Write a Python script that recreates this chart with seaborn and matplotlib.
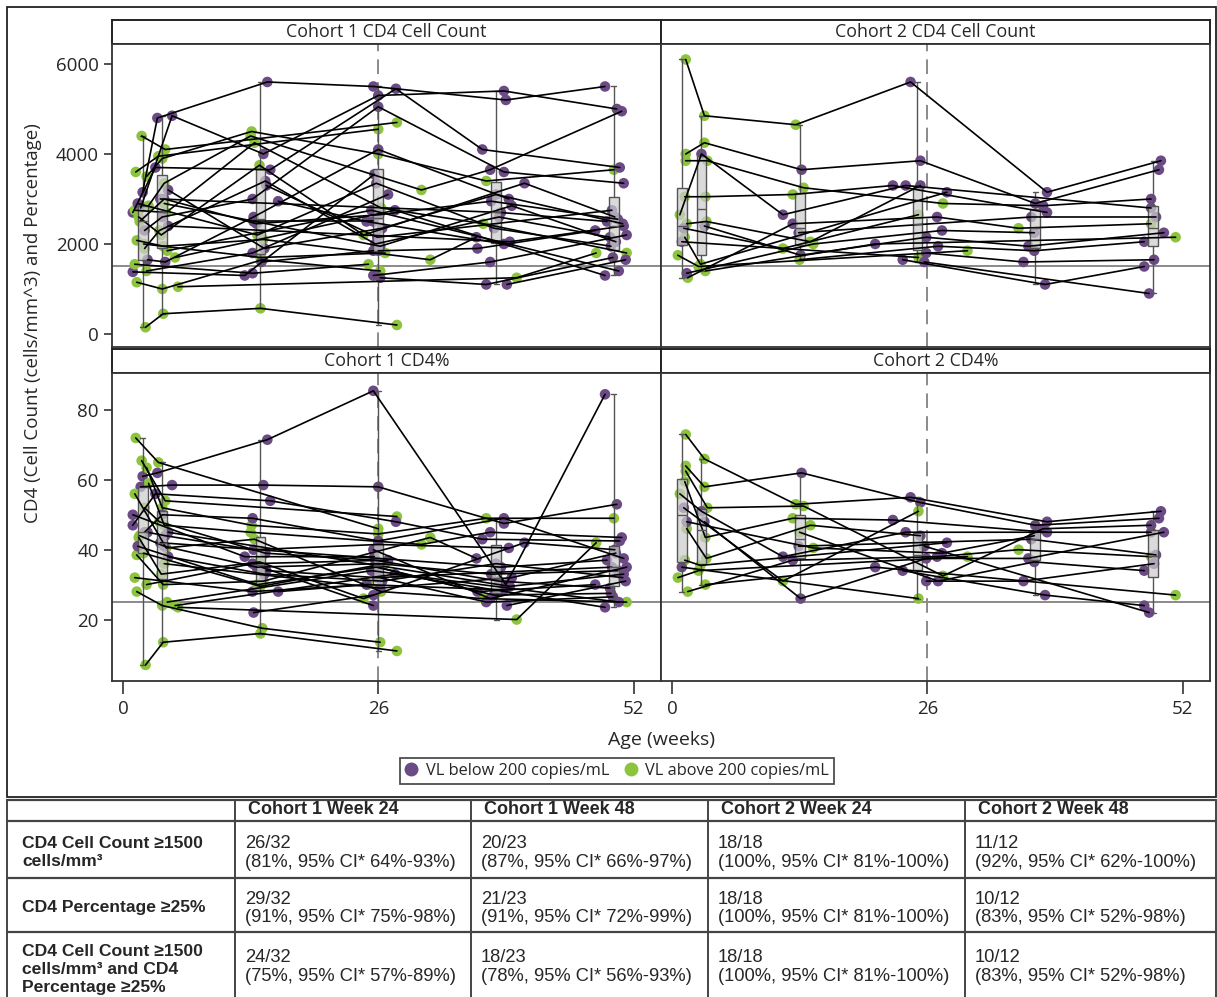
import numpy as np
import pandas as pd
import matplotlib
matplotlib.use("Agg")
import matplotlib.pyplot as plt
import seaborn as sns
from matplotlib.patches import Rectangle
from matplotlib.lines import Line2D

N = None

# nominal visit weeks (box positions)
c1_visits = [2, 4, 14, 26, 38, 50]
c2_visits = [1, 3, 13, 25, 37, 49]

# Cohort 1: one row per infant, one column per visit (age in weeks)
c1_age = [
    [2.3, 4.1, 14.0, 27.9, N, N],
    [1.4, 4.0, 14.2, 26.2, N, N],
    [1.9, 4.3, N, 27.9, N, N],
    [1.3, 3.6, N, 26.0, N, N],
    [2.0, 3.5, 14.7, 25.5, 39.0, 49.1],
    [2.4, 4.0, 13.1, 26.0, 37.0, 50.0],
    [1.8, 5.0, 14.3, 26.0, 38.8, 50.3],
    [2.6, 4.2, 13.0, 30.4, 37.4, 50.8],
    [1.0, 3.3, 15.0, 27.8, 36.6, 50.6],
    [1.2, 4.4, 13.4, 26.3, 36.7, 51.3],
    [2.2, 4.0, 13.2, 26.0, 38.8, 51.0],
    [1.6, 3.9, 13.9, 24.5, 40.9, 50.1],
    [2.5, 4.3, 13.3, 26.0, 39.3, N],
    [1.4, 4.1, 14.3, 31.3, 36.0, N],
    [1.0, N, 12.4, 25.6, N, N],
    [2.1, N, 14.0, 26.7, N, N],
    [1.2, N, 13.2, 25.0, N, N],
    [2.4, N, 13.2, 27.0, N, N],
    [N, 4.5, N, 25.3, N, 50.5],
    [N, 5.3, N, 27.7, N, 49.1],
    [N, 3.8, N, N, 38.5, 49.3],
    [N, 5.6, N, N, 40.1, 48.2],
    [N, 4.6, N, N, 39.4, 51.0],
    [N, N, 15.8, 24.8, 38.8, N],
    [N, N, 13.3, 25.5, N, N],
    [N, N, 14.1, 25.5, N, N],
    [N, N, N, 26.0, 36.1, 48.1],
    [N, N, N, 25.5, 37.4, 51.3],
    [N, N, N, 26.2, 37.0, 49.9],
    [N, N, N, N, 39.1, 51.2],
    [1.7, 4.2, 13.6, 26.1, 37.5, 50.4],
    [2.2, 3.7, 14.5, 25.7, 38.3, 49.6],
    [N, 4.6, 14.4, 26.4, 38.0, 50.9],
    [1.5, N, 13.7, 25.8, 37.8, 49.7],
    [N, 4.2, N, 26.2, 39.6, 50.2],
    [N, N, 14.6, 25.9, N, 49.8],
]
c1_count = [
    [150, 450, 570, 200, N, N],
    [1150, 1000, 1650, 1400, N, N],
    [4400, 4100, N, 4700, N, N],
    [3600, 3950, N, 4550, N, N],
    [3150, 4800, 5600, 5500, 5200, 5500],
    [3500, 3900, 4500, 4000, 3400, 3650],
    [2800, 4850, 4000, 5300, 5400, 5000],
    [2850, 3350, 4400, 3200, 3650, 4950],
    [2700, 3700, 3650, 5450, 4100, 3700],
    [2750, 2700, 4250, 2800, 2450, 1800],
    [2300, 2600, 3000, 5050, 3600, 3350],
    [2600, 2200, 3750, 2200, 3350, 2600],
    [1650, 1600, 2600, 4100, 3000, N],
    [2080, 1950, 2100, 1650, 2150, N],
    [1380, N, 1300, 3550, N, N],
    [2000, N, 1700, 1800, N, N],
    [1550, N, 1350, 1550, N, N],
    [1400, N, 1800, 3100, N, N],
    [N, 1850, N, 2750, N, 1400],
    [N, 1700, N, 2750, N, 1300],
    [N, 3000, N, N, 2700, 2500],
    [N, 1050, N, N, 1250, 1800],
    [N, 2400, N, N, 2050, 2400],
    [N, N, 2950, 2500, 2000, N],
    [N, N, 2500, 2500, N, N],
    [N, N, 1600, 1850, N, N],
    [N, N, N, 1850, 1900, 2300],
    [N, N, N, 1300, 1600, 2200],
    [N, N, N, 1250, 1100, 1700],
    [N, N, N, N, 1100, 1650],
    [2500, 3000, 2450, 2650, 2950, 2550],
    [1900, 2300, 3400, 2000, 2600, 2150],
    [N, 3200, 1900, 2350, 3100, 2450],
    [2900, N, 2200, 3350, 2350, 1950],
    [N, 2900, N, 1950, 2850, 2050],
    [N, N, 3300, 2150, N, 2750],
]
c1_pct = [
    [7, 13.5, 16, 11, N, N],
    [28, 24, 17.5, 13.5, N, N],
    [65.5, 54, N, 49.5, N, N],
    [72, 65, N, 46, N, N],
    [61, 62, 71.5, 85.5, 30, 84.5],
    [63.5, 52, 47, 44.5, 49, 49],
    [58, 58.5, 58.5, 58, 47.5, 53],
    [59, 47, 45, 41.5, 45, 43.5],
    [47, 56, 54, 48, 43, 42.5],
    [56, 40.5, 43, 28, 26, 25],
    [45, 50, 49, 42.5, 49, 37.5],
    [43.5, 33, 36.5, 26, 42, 40],
    [45, 44, 40, 41.5, 40.5, N],
    [38.5, 30, 31, 43.5, 37.5, N],
    [50, N, 38, 38, N, N],
    [39, N, 29.5, 36, N, N],
    [32, N, 28, 30, N, N],
    [30, N, 36, 37, N, N],
    [N, 25, N, 34, N, 25],
    [N, 24, N, 33, N, 23.5],
    [N, 42, N, N, 35, 37],
    [N, 23.5, N, N, 20, 42],
    [N, 45, N, N, 29.5, 33],
    [N, N, 28, 30, 28.5, N],
    [N, N, 22, 27, N, N],
    [N, N, 35, 24, N, N],
    [N, N, N, 35, 28, 30],
    [N, N, N, 40, 26, 35],
    [N, N, N, 32, 25, 26.5],
    [N, N, N, N, 24, 31],
    [44, 41, 35, 36, 33, 34],
    [52, 48, 39, 37, 31, 29],
    [N, 38, 33, 31, 36, 32],
    [41, N, 30, 35, 27, 27.5],
    [N, 36, N, 29, 32, 39],
    [N, N, 34, 32, N, 35],
]
# 1 = VL above 200 copies/mL, 0 = below
c1_vl = [
    [1, 1, 1, 1, N, N],
    [1, 1, 1, 1, N, N],
    [1, 1, N, 1, N, N],
    [1, 1, N, 1, N, N],
    [0, 0, 0, 0, 0, 0],
    [1, 1, 1, 1, 1, 1],
    [0, 0, 0, 0, 0, 0],
    [1, 1, 1, 1, 0, 0],
    [0, 0, 0, 0, 0, 0],
    [1, 1, 1, 1, 1, 1],
    [0, 0, 0, 0, 0, 0],
    [1, 1, 1, 1, 0, 0],
    [0, 0, 0, 0, 0, N],
    [1, 1, 1, 1, 0, N],
    [0, N, 0, 0, N, N],
    [1, N, 1, 1, N, N],
    [1, N, 0, 1, N, N],
    [1, N, 0, 0, N, N],
    [N, 1, N, 0, N, 0],
    [N, 1, N, 0, N, 0],
    [N, 0, N, N, 0, 0],
    [N, 1, N, N, 1, 1],
    [N, 0, N, N, 0, 0],
    [N, N, 0, 0, 0, N],
    [N, N, 0, 0, N, N],
    [N, N, 0, 0, N, N],
    [N, N, N, 0, 0, 0],
    [N, N, N, 0, 0, 0],
    [N, N, N, 0, 0, 0],
    [N, N, N, N, 0, 0],
    [1, 0, 0, 0, 0, 0],
    [1, 1, 0, 0, 0, 0],
    [N, 0, 0, 0, 0, 0],
    [0, N, 1, 0, 0, 0],
    [N, 1, N, 0, 0, 0],
    [N, N, 0, 0, N, 0],
]

# Cohort 2
c2_age = [
    [1.4, 3.3, 12.6, 24.3, 38.2, 49.8],
    [1.4, 3.3, 13.2, 25.3, 37.0, 49.6],
    [1.4, 3.6, 13.4, 27.6, 37.8, 48.8],
    [1.3, 3.4, 12.3, 22.5, 38.2, N],
    [0.8, 3.0, 11.3, 23.8, N, 48.8],
    [1.5, 3.5, 14.1, 25.3, N, N],
    [1.3, 2.9, N, 28.0, N, N],
    [0.6, 2.7, N, 30.1, N, N],
    [1.6, N, 12.3, 27.0, 35.3, 48.8],
    [1.5, N, 14.4, 27.5, 36.9, N],
    [1.2, N, 11.3, 25.1, N, N],
    [1.0, N, N, 25.1, N, N],
    [N, 3.3, 13.1, 25.9, 36.3, 50.1],
    [N, 3.4, N, 20.7, N, 51.3],
    [N, N, 13.0, 27.1, 36.9, 48.1],
    [N, N, N, 25.9, 35.8, 49.1],
    [N, N, N, 23.5, 38.0, 48.1],
    [N, N, N, 25.7, N, 48.6],
    [N, N, 12.9, N, 36.6, 49.3],
]
c2_count = [
    [6100, 4850, 4650, 5600, 3150, 3850],
    [4000, 4250, 3650, 3850, 2900, 3650],
    [3850, 3850, 3250, 2900, 2850, 3000],
    [3050, 3050, 3100, 3300, 2700, N],
    [2650, 4000, 2650, 3300, N, 2800],
    [2450, 2500, 2050, 3300, N, N],
    [2150, 1550, N, 3150, N, N],
    [1750, 1500, N, 1850, N, N],
    [1250, N, 2450, 2600, 2350, 2450],
    [1350, N, 2000, 2300, 2250, N],
    [2350, N, 1900, 2650, N, N],
    [2050, N, N, 1700, N, N],
    [N, 2400, 1750, 2150, 1950, 2250],
    [N, 1400, N, 2000, N, 2150],
    [N, N, 1650, 1950, 1850, 2050],
    [N, N, N, 1800, 1600, 1650],
    [N, N, N, 1650, 1100, 1500],
    [N, N, N, 1600, N, 900],
    [N, N, 2250, N, 2600, 2600],
]
c2_pct = [
    [73, 66, 53, 55, 48, 51],
    [64, 58, 62, 53.5, 47, 49],
    [62.5, 52, 52.5, 32.5, 46, 47],
    [59.5, 43.5, 49, 48.5, 45, N],
    [56, 51, 38, 45, N, 45],
    [46, 37.5, 47, 44, N, N],
    [37, 35.5, N, 42, N, N],
    [32, 34, N, 38, N, N],
    [28, N, 37, 38, 40, 38],
    [48, N, 40.5, 39, 44, N],
    [52, N, 31, 51, N, N],
    [35, N, N, 26, N, N],
    [N, 48, 26, 37.5, 37.5, 45],
    [N, 30, N, 35, N, 27],
    [N, N, 45, 31, 36.5, 34],
    [N, N, N, 31, 31, 36],
    [N, N, N, 34, 27, 24],
    [N, N, N, 41, N, 22],
    [N, N, 41, N, 43, 38.5],
]
c2_vl = [
    [1, 1, 1, 0, 0, 0],
    [1, 1, 0, 0, 0, 0],
    [1, 1, 1, 1, 0, 0],
    [1, 1, 1, 0, 0, N],
    [1, 0, 0, 0, N, 0],
    [1, 1, 1, 0, N, N],
    [1, 1, N, 0, N, N],
    [1, 1, N, 1, N, N],
    [1, N, 0, 0, 1, 1],
    [0, N, 1, 0, 0, N],
    [0, N, 1, 1, N, N],
    [0, N, N, 1, N, N],
    [N, 0, 0, 0, 0, 0],
    [N, 1, N, 0, N, 1],
    [N, N, 1, 0, 0, 0],
    [N, N, N, 0, 0, 0],
    [N, N, N, 0, 0, 0],
    [N, N, N, 0, N, 0],
    [N, N, 0, N, 0, 0],
]

cohort_names = ["Cohort 1", "Cohort 2"]
measure_titles = ["CD4 Cell Count", "CD4%"]
ref_levels = [1500, 25]
vl_labels = ["VL below 200 copies/mL", "VL above 200 copies/mL"]

table_cols = ["Cohort 1 Week 24", "Cohort 1 Week 48", "Cohort 2 Week 24", "Cohort 2 Week 48"]
table_rows = [
    ["CD4 Cell Count \u22651500", "cells/mm\u00b3"],
    ["CD4 Percentage \u226525%"],
    ["CD4 Cell Count \u22651500", "cells/mm\u00b3 and CD4", "Percentage \u226525%"],
]
table_cells = [
    [("26/32", "(81%, 95% CI* 64%-93%)"), ("20/23", "(87%, 95% CI* 66%-97%)"),
     ("18/18", "(100%, 95% CI* 81%-100%)"), ("11/12", "(92%, 95% CI* 62%-100%)")],
    [("29/32", "(91%, 95% CI* 75%-98%)"), ("21/23", "(91%, 95% CI* 72%-99%)"),
     ("18/18", "(100%, 95% CI* 81%-100%)"), ("10/12", "(83%, 95% CI* 52%-98%)")],
    [("24/32", "(75%, 95% CI* 57%-89%)"), ("18/23", "(78%, 95% CI* 56%-93%)"),
     ("18/18", "(100%, 95% CI* 81%-100%)"), ("10/12", "(83%, 95% CI* 52%-98%)")],
]


def long_frame(name, visits, age, count, pct, vl):
    recs = []
    for i in range(len(age)):
        for j, wk in enumerate(visits):
            if age[i][j] is None:
                continue
            recs.append({"cohort": name, "subject": f"{name}-{i}", "visit": wk,
                         "age": age[i][j], "count": count[i][j], "pct": pct[i][j],
                         "vl": vl_labels[vl[i][j]]})
    return pd.DataFrame(recs)


df = pd.concat([
    long_frame("Cohort 1", c1_visits, c1_age, c1_count, c1_pct, c1_vl),
    long_frame("Cohort 2", c2_visits, c2_age, c2_count, c2_pct, c2_vl),
], ignore_index=True)

sns.set_theme(style="ticks")
plt.rcParams["font.family"] = ["Open Sans", "DejaVu Sans"]

purple = "#6b4a85"
green = "#8cc43e"
pal = {vl_labels[0]: purple, vl_labels[1]: green}

W, H = 1217, 997
fig = plt.figure(figsize=(W / 100, H / 100), dpi=100)


def px_axes(x0, y0, x1, y1):
    return fig.add_axes([x0 / W, 1 - y1 / H, (x1 - x0) / W, (y1 - y0) / H])


col_px = [(112, 661), (661, 1210)]
row_px = [((20, 44), (44, 347)), ((349, 373), (373, 681))]
ylims = [(-289, 6444), (2.4, 90.6)]
yticks = [[0, 2000, 4000, 6000], [20, 40, 60, 80]]
measures = ["count", "pct"]

for r, m in enumerate(measures):
    (hy0, hy1), (py0, py1) = row_px[r]
    for c, cname in enumerate(cohort_names):
        x0, x1 = col_px[c]
        d = df[df["cohort"] == cname]

        hax = px_axes(x0, hy0, x1, hy1)
        hax.set_xticks([])
        hax.set_yticks([])
        hax.text(0.5, 0.5, f"{cname} {measure_titles[r]}", ha="center", va="center", fontsize=12.8)
        for s in hax.spines.values():
            s.set_color("#222222")
            s.set_linewidth(1.4)

        ax = px_axes(x0, py0, x1, py1)
        ax.axhline(ref_levels[r], color="#8a8a8a", lw=1.4, zorder=0.5)
        ax.axvline(26, color="#8a8a8a", lw=1.4, dashes=(7.5, 4.2), zorder=0.5)

        sns.scatterplot(data=d, x="age", y=m, hue="vl", palette=pal, s=58,
                        linewidth=0, legend=False, ax=ax)
        sns.boxplot(data=d, x="visit", y=m, native_scale=True, width=0.5,
                    whis=(0, 100), color="#c8c8c8", linecolor="#555555",
                    linewidth=1.0, fliersize=0, ax=ax)
        for p in ax.patches:
            p.set_facecolor((0.80, 0.80, 0.80, 0.72))
        sns.lineplot(data=d, x="age", y=m, units="subject", estimator=None,
                     color="black", linewidth=1.2, legend=False, ax=ax)

        ax.set_xlim(-1.12, 54.8)
        ax.set_ylim(*ylims[r])
        ax.set_xlabel("")
        ax.set_ylabel("")
        if c == 0:
            ax.set_yticks(yticks[r])
            ax.tick_params(axis="y", labelsize=13.5, length=6, width=1.2, color="#333333")
        else:
            ax.set_yticks([])
        if r == 1:
            ax.set_xticks([0, 26, 52])
            ax.tick_params(axis="x", labelsize=13.5, length=9, width=1.2, color="#333333", pad=5)
        else:
            ax.set_xticks([])
        for s in ax.spines.values():
            s.set_color("#333333")
            s.set_linewidth(1.3)

fig.text(33 / W, 1 - 323 / H, "CD4 (Cell Count (cells/mm^3) and Percentage)",
         rotation=90, ha="center", va="center", fontsize=13.5)
fig.text(661 / W, 1 - 740 / H, "Age (weeks)", ha="center", va="center", fontsize=14)

handles = [Line2D([], [], marker="o", ls="", color=pal[v], markersize=9) for v in vl_labels]
leg = fig.legend(handles, vl_labels, loc="center", bbox_to_anchor=(617 / W, 1 - 771 / H),
                 ncol=2, frameon=True, fancybox=False, edgecolor="#222222", fontsize=11.8,
                 handletextpad=0.5, columnspacing=0.9, borderpad=0.3, handlelength=0.8,
                 borderaxespad=0)
leg.get_frame().set_linewidth(1.3)

# outer frame of the chart
fig.add_artist(Rectangle((7 / W, 1 - 797 / H), 1209 / W, 790 / H, transform=fig.transFigure,
                         fill=False, ec="#222222", lw=1.3))

# summary table
tfont = ["Liberation Sans", "DejaVu Sans"]
col_x = [7, 235, 471, 708, 965, 1216]
row_y = [800, 821, 878, 932, 997]
for yy in row_y[:-1]:
    fig.add_artist(Line2D([7 / W, 1216 / W], [1 - yy / H, 1 - yy / H], transform=fig.transFigure,
                          color="#444444", lw=1.6))
for xx in col_x:
    fig.add_artist(Line2D([xx / W, xx / W], [1 - 800 / H, 0], transform=fig.transFigure,
                          color="#444444", lw=1.4))

for k, txt in enumerate(table_cols):
    fig.text((col_x[k + 1] + 13) / W, 1 - 810 / H, txt, ha="left", va="center",
             fontsize=13, fontweight="bold", family=tfont)

label_lines_y = [[843, 861], [907], [951, 969, 987]]
cell_lines_y = [[843, 862], [899, 918], [957, 976]]
for i, lines in enumerate(table_rows):
    for t, yy in zip(lines, label_lines_y[i]):
        fig.text(22 / W, 1 - yy / H, t, ha="left", va="center", fontsize=12.6,
                 fontweight="bold", family=tfont)
    for k, (a, b) in enumerate(table_cells[i]):
        xx = (col_x[k + 1] + 10) / W
        fig.text(xx, 1 - cell_lines_y[i][0] / H, a, ha="left", va="center", fontsize=13.2, family=tfont)
        fig.text(xx, 1 - cell_lines_y[i][1] / H, b, ha="left", va="center", fontsize=13.2, family=tfont)

fig.savefig("out.png", dpi=100)
